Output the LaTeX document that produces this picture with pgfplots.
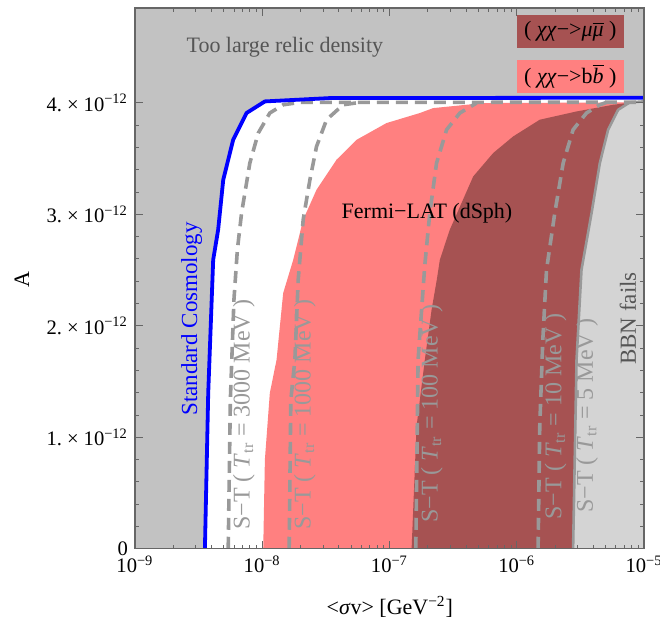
\documentclass[border=0pt]{standalone}
\usepackage{fontspec}
\setmainfont{Liberation Serif}
\usepackage{pgfplots}
\pgfplotsset{compat=1.18}
\definecolor{relicgray}{HTML}{C2C2C2}
\definecolor{bbngray}{HTML}{D4D4D4}
\definecolor{bbpink}{HTML}{FF8080}
\definecolor{mudark}{HTML}{A65252}
\definecolor{dashgray}{HTML}{999999}
\definecolor{framegray}{HTML}{666666}
\definecolor{textgray}{HTML}{555555}
\newcommand{\ytl}[1]{#1.\hspace{2.5pt}×\hspace{2.5pt}10\textsuperscript{−12}}
\begin{document}
\begin{tikzpicture}
\begin{axis}[
  name=ax,
  scale only axis,
  width=254.65pt, height=270.5pt,
  xmode=log, xmin=1e-9, xmax=1e-5,
  ymin=0, ymax=4.85,
  axis on top,
  tick align=inside,
  major tick length=4pt, minor tick length=2pt,
  xtick={1e-9,1e-8,1e-7,1e-6,1e-5},
  xticklabels={10\textsuperscript{−9},10\textsuperscript{−8},10\textsuperscript{−7},10\textsuperscript{−6},10\textsuperscript{−5}},
  minor xtick={2e-9,3e-9,4e-9,5e-9,6e-9,7e-9,8e-9,9e-9,2e-8,3e-8,4e-8,5e-8,6e-8,7e-8,8e-8,9e-8,2e-7,3e-7,4e-7,5e-7,6e-7,7e-7,8e-7,9e-7,2e-6,3e-6,4e-6,5e-6,6e-6,7e-6,8e-6,9e-6},
  ytick={0,1,2,3,4},
  yticklabels={0,\ytl{1},\ytl{2},\ytl{3},\ytl{4}},
  minor y tick num=4,
  tick style={framegray, line width=0.4pt},
  axis line style={framegray, line width=0.6pt},
  ticklabel style={font=\fontsize{10.3}{12}\selectfont},
  xlabel={<\textit{σ}v> [GeV\textsuperscript{−2}]},
  xlabel style={font=\fontsize{11}{13}\selectfont, at={(axis description cs:0.5007,-0.107)}, anchor=center},
  ylabel={A},
  ylabel style={font=\fontsize{11}{13}\selectfont, at={(axis description cs:-0.222,0.497)}, anchor=center},
]
% too large relic density region
\addplot[fill=relicgray, draw=none] coordinates {
(1e-9,0) (3.548e-9,0) (3.767e-9,1.396) (4.121e-9,2.592) (4.508e-9,2.861) (4.943e-9,3.309)
(5.916e-9,3.668) (7.534e-9,3.908) (1.050e-8,4.012) (3.404e-8,4.042) (1e-5,4.045)
(1e-5,4.85) (1e-9,4.85)} -- cycle;
% Fermi-LAT bb
\addplot[fill=bbpink, draw=none] coordinates {
(1.019e-8,0) (1.050e-8,0.798) (1.148e-8,1.396) (1.297e-8,1.695) (1.462e-8,2.293)
(1.754e-8,2.592) (2.099e-8,2.951) (2.673e-8,3.220) (3.837e-8,3.489) (5.521e-8,3.668)
(9.484e-8,3.818) (1.734e-7,3.908) (2.203e-7,3.952) (5.445e-7,3.997) (6.457e-6,4.003)
(1e-5,4.003) (1e-5,0)} -- cycle;
% Fermi-LAT mu mu
\addplot[fill=mudark, draw=none] coordinates {
(1.493e-7,0) (1.633e-7,1.097) (1.897e-7,1.695) (2.143e-7,2.143) (2.355e-7,2.413)
(2.489e-7,2.592) (2.979e-7,2.861) (4.550e-7,3.339) (6.531e-7,3.549) (9.376e-7,3.698)
(1.517e-6,3.848) (2.951e-6,3.922) (5.715e-6,3.982) (7.727e-6,4.0)
(1e-5,4.0) (1e-5,0)} -- cycle;
% BBN fails
\addplot[fill=bbngray, draw=none] coordinates {
(2.773e-6,0) (2.951e-6,1.695) (3.228e-6,2.502) (3.873e-6,3.011) (4.498e-6,3.459)
(5.224e-6,3.758) (6.266e-6,3.937) (7.727e-6,4.003) (9.840e-6,4.012) (1e-5,4.012) (1e-5,0)} -- cycle;
\addplot[dashgray, line width=1.3pt] coordinates {
(2.773e-6,0) (2.951e-6,1.695) (3.228e-6,2.502) (3.873e-6,3.011) (4.498e-6,3.459)
(5.224e-6,3.758) (6.266e-6,3.937) (7.727e-6,4.003) (9.840e-6,4.012) (1e-5,4.012)};
% S-T dashed curves
\addplot[dashgray, line width=1.8pt, dash pattern=on 6pt off 3.5pt] coordinates {
(5.408e-9,0) (5.623e-9,1.336) (5.998e-9,2.233) (6.383e-9,2.682) (6.887e-9,3.011)
(7.998e-9,3.459) (9.311e-9,3.728) (1.148e-8,3.908) (1.462e-8,3.982) (1.977e-8,4.003) (1e-5,4.005)};
\addplot[dashgray, line width=1.8pt, dash pattern=on 6pt off 3.5pt] coordinates {
(1.629e-8,0) (1.679e-8,1.336) (1.807e-8,1.695) (1.919e-8,2.413) (2.099e-8,2.951)
(2.371e-8,3.309) (2.673e-8,3.608) (3.206e-8,3.848) (4.325e-8,3.982) (5.848e-8,4.003)};
\addplot[dashgray, line width=1.8pt, dash pattern=on 6pt off 3.5pt] coordinates {
(1.611e-7,0) (1.679e-7,1.695) (1.766e-7,2.054) (1.897e-7,2.547) (2.075e-7,3.011)
(2.344e-7,3.459) (2.812e-7,3.758) (3.573e-7,3.908) (4.831e-7,3.997)};
\addplot[dashgray, line width=1.8pt, dash pattern=on 6pt off 3.5pt] coordinates {
(1.472e-6,0) (1.517e-6,1.097) (1.603e-6,1.874) (1.714e-6,2.502) (1.991e-6,3.011)
(2.317e-6,3.459) (2.773e-6,3.758) (3.532e-6,3.908) (4.498e-6,3.982) (5.070e-6,4.003)};
% standard cosmology
\addplot[blue, line width=1.9pt] coordinates {
(3.548e-9,0) (3.767e-9,1.396) (4.121e-9,2.592) (4.508e-9,2.861) (4.943e-9,3.309)
(5.916e-9,3.668) (7.534e-9,3.908) (1.050e-8,4.012) (3.404e-8,4.042) (1e-5,4.045)};
% labels
\node[textgray, font=\fontsize{11}{13}\selectfont] at (axis cs:1.507e-8,4.502) {Too large relic density};
\node[black, font=\fontsize{11}{13}\selectfont] at (axis cs:1.972e-7,3.013) {Fermi−LAT (dSph)};
\node[blue, rotate=90, anchor=west, font=\fontsize{11.5}{13}\selectfont] at (axis cs:2.786e-9,1.13) {Standard Cosmology};
\node[dashgray, rotate=90, anchor=west, font=\fontsize{12}{14}\selectfont] at (axis cs:7.178e-9,0.108) {S−T ( \textit{T}\textsubscript{tr} = 3000 MeV )};
\node[dashgray, rotate=90, anchor=west, font=\fontsize{12}{14}\selectfont] at (axis cs:2.163e-8,0.108) {S−T ( \textit{T}\textsubscript{tr} = 1000 MeV )};
\node[dashgray, rotate=90, anchor=west, font=\fontsize{12}{14}\selectfont] at (axis cs:2.153e-7,0.17) {S−T ( \textit{T}\textsubscript{tr} = 100 MeV )};
\node[dashgray, rotate=90, anchor=west, font=\fontsize{12}{14}\selectfont] at (axis cs:2.018e-6,0.2) {S−T ( \textit{T}\textsubscript{tr} = 10 MeV )};
\node[dashgray, rotate=90, anchor=west, font=\fontsize{12}{14}\selectfont] at (axis cs:3.573e-6,0.26) {S−T ( \textit{T}\textsubscript{tr} = 5 MeV )};
\node[textgray, rotate=90, anchor=west, font=\fontsize{11.5}{13}\selectfont] at (axis cs:7.464e-6,1.587) {BBN fails};
\node[fill=mudark, minimum width=53.5pt, minimum height=16.5pt, inner sep=0pt, font=\fontsize{11}{13}\selectfont] at (axis cs:2.636e-6,4.641) {( \textit{χχ}−>\textit{μ}$\overline{\hbox{\textit{μ}}}$ )};
\node[fill=bbpink, minimum width=53.5pt, minimum height=16.5pt, inner sep=0pt, font=\fontsize{11}{13}\selectfont] at (axis cs:2.636e-6,4.238) {( \textit{χχ}−>b$\overline{\hbox{\textit{b}}}$ )};
\node[anchor=base east, font=\bfseries\fontsize{11}{13}\selectfont] at (axis description cs:-0.2415,-0.0555) {100};
\end{axis}
\pgfresetboundingbox
\path[use as bounding box] ([xshift=-67.5pt,yshift=-36.5pt]ax.south west) rectangle ([xshift=8pt,yshift=4pt]ax.north east);
\end{tikzpicture}
\end{document}
